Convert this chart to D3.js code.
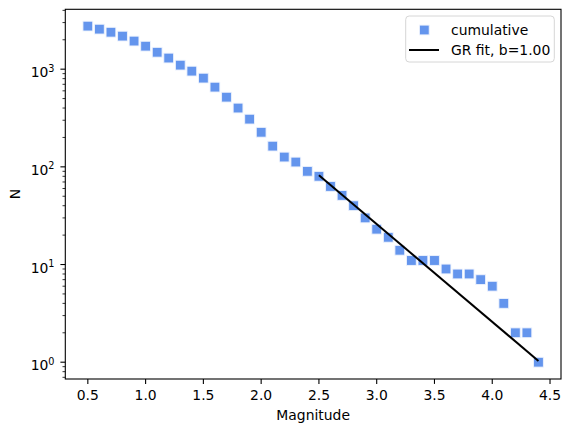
<!DOCTYPE html>
<html>
<head>
<meta charset="utf-8">
<script src="https://cdn.jsdelivr.net/npm/d3@7/dist/d3.min.js"></script>
<style>
  html, body { margin: 0; padding: 0; background: #fff; }
  svg { display: block; }
  text { font-family: "DejaVu Sans", sans-serif; fill: #000; }
</style>
</head>
<body>
<svg id="chart" width="570" height="432"></svg>
<script>
// ---- data ----
const magnitudes = [0.5, 0.6, 0.7, 0.8, 0.9, 1.0, 1.1, 1.2, 1.3, 1.4,
                    1.5, 1.6, 1.7, 1.8, 1.9, 2.0, 2.1, 2.2, 2.3, 2.4,
                    2.5, 2.6, 2.7, 2.8, 2.9, 3.0, 3.1, 3.2, 3.3, 3.4,
                    3.5, 3.6, 3.7, 3.8, 3.9, 4.0, 4.1, 4.2, 4.3, 4.4];
const cumulative = [2760, 2570, 2390, 2180, 1940, 1720, 1490, 1300, 1100, 955,
                    810, 655, 517, 400, 308, 226, 163, 126, 112, 90,
                    80, 63, 51, 40, 30, 23, 19, 14, 11, 11,
                    11, 9, 8, 8, 7, 6, 4, 2, 2, 1];
const fitM = [2.5, 4.4];
const fitN = [82, 1.03];
const xTickValues = [0.5, 1.0, 1.5, 2.0, 2.5, 3.0, 3.5, 4.0, 4.5];
const yMajorExponents = [0, 1, 2, 3];
const legendLabels = ["cumulative", "GR fit, b=1.00"];

// ---- layout ----
const svg = d3.select("#chart");
const L = 65.3, R = 561, T = 9.3, B = 379;
const FS = 13.9;
const blue = "#6495ED";

const xMin = d3.min(magnitudes), xMax = d3.max(magnitudes);
const xPad = 0.05 * (xMax - xMin);
const x = d3.scaleLinear().domain([xMin - xPad, xMax + xPad]).range([L, R]);

const lMin = Math.log10(d3.min(cumulative)), lMax = Math.log10(d3.max(cumulative));
const lPad = 0.05 * (lMax - lMin);
const y = d3.scaleLog().domain([Math.pow(10, lMin - lPad), Math.pow(10, lMax + lPad)]).range([B, T]);

// ---- markers ----
const ms = 9.8;
svg.append("g").selectAll("rect").data(magnitudes).join("rect")
  .attr("x", (d) => x(d) - ms / 2)
  .attr("y", (d, i) => y(cumulative[i]) - ms / 2)
  .attr("width", ms).attr("height", ms)
  .attr("fill", blue).attr("stroke", "#eef3fd").attr("stroke-width", 0.9);

// ---- fit line ----
const line = d3.line().x((d) => x(d[0])).y((d) => y(d[1]));
svg.append("path")
  .datum(fitM.map((m, i) => [m, fitN[i]]))
  .attr("d", line)
  .attr("fill", "none").attr("stroke", "#000").attr("stroke-width", 2);

// ---- axes frame ----
svg.append("rect").attr("x", L).attr("y", T).attr("width", R - L).attr("height", B - T)
  .attr("fill", "none").attr("stroke", "#000").attr("stroke-width", 1.1);

// x ticks
const xg = svg.append("g");
xTickValues.forEach((v) => {
  const px = x(v);
  xg.append("line").attr("x1", px).attr("x2", px).attr("y1", B).attr("y2", B + 4.9)
    .attr("stroke", "#000").attr("stroke-width", 1.1);
  xg.append("text").attr("x", px).attr("y", B + 20.5).attr("text-anchor", "middle")
    .attr("font-size", FS).text(v.toFixed(1));
});

// y ticks (major + minor)
const yg = svg.append("g");
const [d0, d1] = y.domain();
const minorTicks = y.ticks().filter((v) => v >= d0 && v <= d1);
minorTicks.forEach((v) => {
  const isMajor = Math.abs(Math.log10(v) - Math.round(Math.log10(v))) < 1e-9;
  if (isMajor) return;
  const py = y(v);
  yg.append("line").attr("x1", L - 2.8).attr("x2", L).attr("y1", py).attr("y2", py)
    .attr("stroke", "#000").attr("stroke-width", 0.8);
});
yMajorExponents.forEach((e) => {
  const py = y(Math.pow(10, e));
  yg.append("line").attr("x1", L - 4.9).attr("x2", L).attr("y1", py).attr("y2", py)
    .attr("stroke", "#000").attr("stroke-width", 1.1);
  const t = yg.append("text").attr("x", 54.5).attr("y", py + 8).attr("text-anchor", "end")
    .attr("font-size", FS);
  t.append("tspan").text("10");
  t.append("tspan").attr("font-size", 9.7).attr("dy", -5.6).text(String(e));
});

// axis labels
svg.append("text").attr("x", (L + R) / 2).attr("y", 419.5).attr("text-anchor", "middle")
  .attr("font-size", FS).text("Magnitude");
svg.append("text").attr("transform", `translate(20,${(T + B) / 2}) rotate(-90)`)
  .attr("text-anchor", "middle").attr("font-size", FS).text("N");

// ---- legend ----
const lg = svg.append("g");
lg.append("rect").attr("x", 405.7).attr("y", 16).attr("width", 148.6).attr("height", 46)
  .attr("rx", 3.5).attr("fill", "#fff").attr("fill-opacity", 0.8)
  .attr("stroke", "#d6d6d6").attr("stroke-width", 1);
lg.append("rect").attr("x", 424.3 - ms / 2).attr("y", 30 - ms / 2).attr("width", ms).attr("height", ms)
  .attr("fill", blue).attr("stroke", "#eef3fd").attr("stroke-width", 0.9);
lg.append("line").attr("x1", 409).attr("x2", 439).attr("y1", 50).attr("y2", 50)
  .attr("stroke", "#000").attr("stroke-width", 2);
lg.append("text").attr("x", 451).attr("y", 35).attr("font-size", FS).text(legendLabels[0]);
lg.append("text").attr("x", 451).attr("y", 55).attr("font-size", FS).text(legendLabels[1]);
</script>
</body>
</html>
